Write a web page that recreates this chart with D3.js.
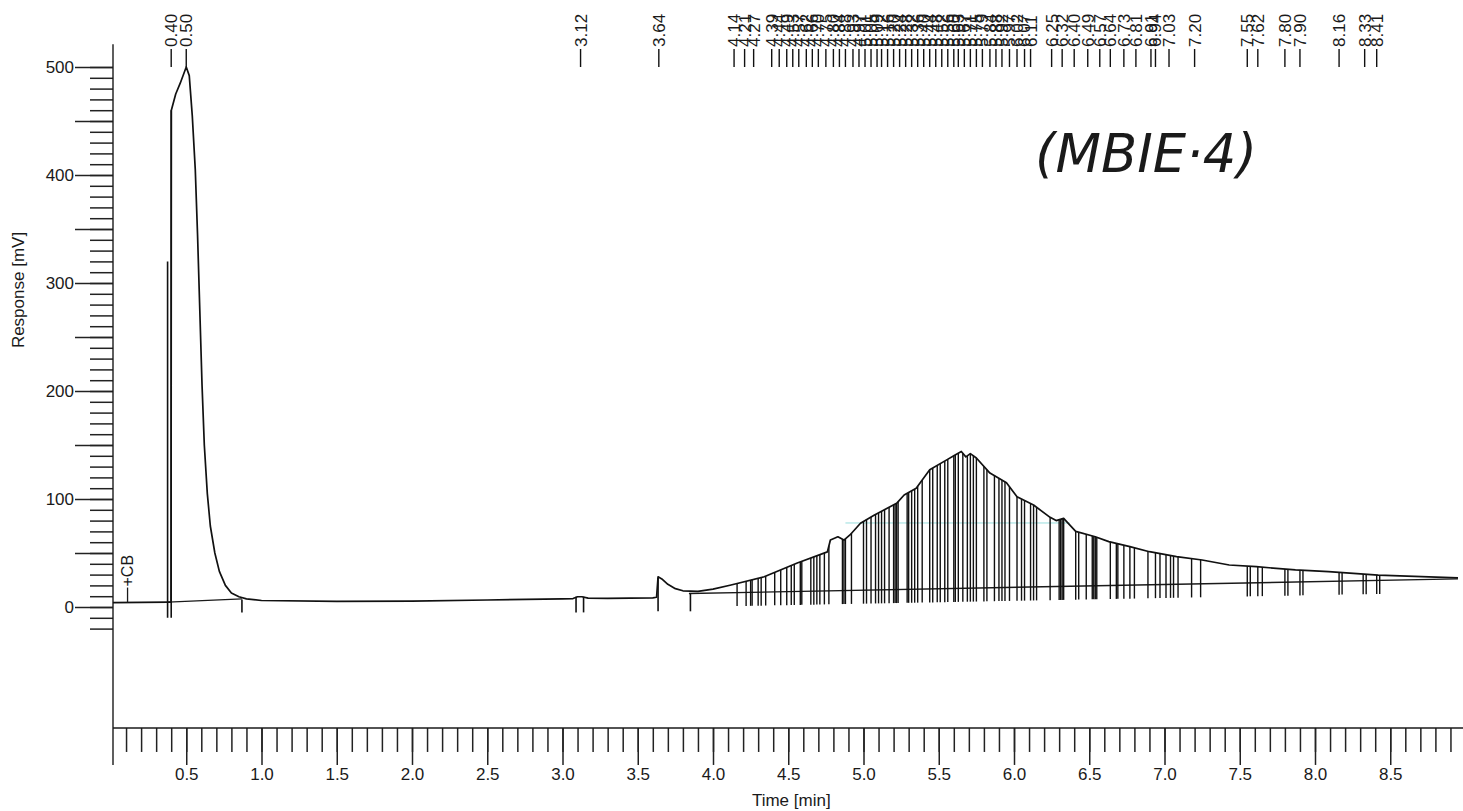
<!DOCTYPE html>
<html>
<head>
<meta charset="utf-8">
<script src="https://cdn.jsdelivr.net/npm/d3@7/dist/d3.min.js"></script>
<style>
  body { margin: 0; background: #fff; }
  text { font-family: "Liberation Sans", Arial, sans-serif; fill: #1a1a1a; }
</style>
</head>
<body>
<div id="chart"></div>
<script>
// ---- data ----
var signalTime = [0.013, 0.20, 0.38, 0.399, 0.401, 0.43, 0.46, 0.50, 0.52, 0.54, 0.56, 0.575, 0.59, 0.605, 0.62, 0.64,
  0.66, 0.69, 0.72, 0.76, 0.80, 0.85, 0.90, 1.00, 1.50, 2.00, 2.50, 3.00, 3.07, 3.10, 3.13, 3.17, 3.30, 3.60, 3.625,
  3.635, 3.66, 3.70, 3.75, 3.80, 3.90, 4.00, 4.12, 4.34, 4.56, 4.76, 4.78, 4.83, 4.87, 4.91, 4.98, 5.07, 5.22, 5.27,
  5.35, 5.44, 5.55, 5.60, 5.65, 5.68, 5.71, 5.75, 5.84, 5.95, 6.02, 6.13, 6.24, 6.28, 6.33, 6.41, 6.54, 6.63, 6.77,
  6.90, 7.08, 7.25, 7.43, 7.61, 7.87, 8.09, 8.42, 8.95];
var signalMv = [4.0, 4.2, 4.5, 4.5, 460, 475, 485, 500, 492, 455, 405, 345, 275, 205, 150, 105,
  75, 50, 33, 20, 13, 9.5, 7.5, 6.0, 5.2, 5.5, 6.5, 7.5, 7.8, 9.5, 9.5, 8.2, 8.0, 8.5, 9.0,
  28, 26, 21, 17, 15, 14.5, 16.5, 20.4, 28, 40.7, 51, 62, 65, 62, 66.7, 77.6, 85, 96, 103.7,
  110, 127, 136, 140, 144, 139, 142, 138, 124, 115, 102, 94.4, 83, 80, 82, 70, 65, 60.5, 55.9,
  51.2, 46.6, 43.5, 38.9, 37.3, 34.3, 32.7, 29.6, 26.9];

// retention times printed above the trace
var peakTimes = [0.40, 0.50, 3.12, 3.64, 4.14, 4.21, 4.27, 4.39, 4.44, 4.49, 4.53, 4.57, 4.62, 4.66, 4.70, 4.75,
  4.80, 4.84, 4.88, 4.93, 4.97, 5.01, 5.05, 5.09, 5.12, 5.16, 5.20, 5.24, 5.28, 5.32, 5.36, 5.40, 5.44, 5.48, 5.52,
  5.56, 5.60, 5.63, 5.67, 5.71, 5.75, 5.79, 5.84, 5.88, 5.92, 5.97, 6.02, 6.07, 6.11, 6.25, 6.32, 6.40, 6.49, 6.57,
  6.64, 6.73, 6.81, 6.91, 6.94, 7.03, 7.20, 7.55, 7.62, 7.80, 7.90, 8.16, 8.33, 8.41];

// peak boundaries (drop lines)
var dropTimes = [4.16, 4.22, 4.25, 4.26, 4.30, 4.32, 4.35, 4.41, 4.45, 4.49, 4.52, 4.54, 4.58, 4.59, 4.65, 4.67,
  4.69, 4.71, 4.74, 4.77, 4.86, 4.87, 4.88, 4.92, 5.00, 5.02, 5.05, 5.08, 5.10, 5.12, 5.14, 5.17, 5.20, 5.21, 5.22,
  5.23, 5.29, 5.30, 5.32, 5.34, 5.36, 5.39, 5.44, 5.46, 5.49, 5.51, 5.54, 5.56, 5.60, 5.61, 5.63, 5.66, 5.69, 5.71,
  5.73, 5.75, 5.80, 5.82, 5.87, 5.90, 5.92, 5.94, 5.97, 6.02, 6.05, 6.07, 6.11, 6.13, 6.15, 6.24, 6.30, 6.31, 6.32,
  6.33, 6.41, 6.43, 6.48, 6.52, 6.53, 6.54, 6.55, 6.64, 6.68, 6.69, 6.73, 6.77, 6.80, 6.89, 6.94, 6.97, 7.01, 7.04,
  7.06, 7.09, 7.18, 7.24, 7.55, 7.57, 7.62, 7.65, 7.80, 7.82, 7.90, 7.92, 8.16, 8.18, 8.32, 8.34, 8.41, 8.43];

// start / end markers of the early peaks
var markTime = [0.376, 0.40, 0.87, 3.09, 3.14, 3.635, 3.85];
var markTop = [320, 460, 7, 9.5, 9.5, 27, 13];
var markBottom = [-10, -10, -5, -5, -5, -4, -4];

// integration baselines
var baseStartTime = [0.38, 3.84];
var baseStartMv = [4.5, 12.5];
var baseEndTime = [0.87, 8.95];
var baseEndMv = [7.5, 26];

var xMajorTicks = [0.5, 1.0, 1.5, 2.0, 2.5, 3.0, 3.5, 4.0, 4.5, 5.0, 5.5, 6.0, 6.5, 7.0, 7.5, 8.0, 8.5];
var yMajorTicks = [0, 50, 100, 150, 200, 250, 300, 350, 400, 450, 500];

// ---- layout ----
var svgWidth = 1463;
var svgHeight = 811;
var axisX = 113;

var svg = d3.select("#chart")
  .append("svg")
  .attr("width", svgWidth)
  .attr("height", svgHeight);

var x = d3.scaleLinear().domain([0, 9]).range([111, 1465.5]);
var y = d3.scaleLinear().domain([0, 500]).range([607, 67]);
var axisY = y(-112);

function signalAt(t) {
  var i = d3.bisectRight(signalTime, t);
  if (i <= 0) return signalMv[0];
  if (i >= signalTime.length) return signalMv[signalMv.length - 1];
  var t0 = signalTime[i - 1], t1 = signalTime[i];
  return signalMv[i - 1] + (signalMv[i] - signalMv[i - 1]) * (t - t0) / (t1 - t0);
}

function baselineAt(t) {
  for (var k = 0; k < baseStartTime.length; k++) {
    if (t >= baseStartTime[k] && t <= baseEndTime[k]) {
      return baseStartMv[k] + (baseEndMv[k] - baseStartMv[k]) * (t - baseStartTime[k]) / (baseEndTime[k] - baseStartTime[k]);
    }
  }
  return signalAt(t);
}

// y axis: minor ladder, then 50s / labelled 100s
svg.append("g")
  .attr("transform", `translate(${axisX},0)`)
  .call(d3.axisLeft(y).tickValues(d3.range(-20, 501, 10)).tickSize(23).tickFormat(""))
  .call(g => g.select(".domain").remove());

svg.append("g")
  .attr("transform", `translate(${axisX},0)`)
  .call(d3.axisLeft(y).tickValues(yMajorTicks).tickSize(38).tickPadding(1)
    .tickFormat(d => d % 100 === 0 ? d : ""))
  .call(g => g.select(".domain").remove())
  .call(g => g.selectAll("text").style("font-size", "17px"));

svg.append("line")
  .attr("x1", axisX).attr("x2", axisX)
  .attr("y1", y(521)).attr("y2", axisY + 37)
  .attr("stroke", "#1a1a1a").attr("stroke-width", 1.4);

// x axis
svg.append("g")
  .attr("transform", `translate(0,${axisY})`)
  .call(d3.axisBottom(x).tickValues(d3.range(1, 90).map(i => i / 10)).tickSize(24).tickFormat(""))
  .call(g => g.select(".domain").remove());

svg.append("g")
  .attr("transform", `translate(0,${axisY})`)
  .call(d3.axisBottom(x).tickValues(xMajorTicks).tickSize(37).tickPadding(3).tickFormat(d3.format(".1f")))
  .call(g => g.select(".domain").remove())
  .call(g => g.selectAll("text").style("font-size", "17px"));

svg.append("line")
  .attr("x1", axisX).attr("x2", svgWidth)
  .attr("y1", axisY).attr("y2", axisY)
  .attr("stroke", "#1a1a1a").attr("stroke-width", 1.4);

svg.selectAll(".tick line").attr("stroke", "#222").attr("stroke-width", 1.5);

// axis titles
svg.append("text")
  .attr("transform", "translate(24,290) rotate(-90)")
  .attr("text-anchor", "middle")
  .style("font-size", "17px")
  .text("Response [mV]");

svg.append("text")
  .attr("x", x(4.52)).attr("y", 806)
  .attr("text-anchor", "middle")
  .style("font-size", "17px")
  .text("Time [min]");

// faint cyan line from the scan
svg.append("line")
  .attr("x1", x(4.88)).attr("x2", x(6.37))
  .attr("y1", y(77.8)).attr("y2", y(77.8))
  .attr("stroke", "#7fd6d6").attr("stroke-width", 1).attr("opacity", 0.8);

// integration baselines
svg.selectAll(".baseline")
  .data(baseStartTime)
  .enter()
  .append("line")
  .attr("x1", (d, i) => x(d))
  .attr("x2", (d, i) => x(baseEndTime[i]))
  .attr("y1", (d, i) => y(baseStartMv[i]))
  .attr("y2", (d, i) => y(baseEndMv[i]))
  .attr("stroke", "#1a1a1a").attr("stroke-width", 1.4);

// drop lines
svg.selectAll(".drop")
  .data(dropTimes)
  .enter()
  .append("line")
  .attr("x1", d => x(d)).attr("x2", d => x(d))
  .attr("y1", d => y(signalAt(d)))
  .attr("y2", d => y(baselineAt(d) - 12.5))
  .attr("stroke", "#111").attr("stroke-width", 1.4);

svg.selectAll(".mark")
  .data(markTime)
  .enter()
  .append("line")
  .attr("x1", d => x(d)).attr("x2", d => x(d))
  .attr("y1", (d, i) => y(markTop[i]))
  .attr("y2", (d, i) => y(markBottom[i]))
  .attr("stroke", "#111").attr("stroke-width", 1.6);

// the trace
var line = d3.line()
  .x((d, i) => x(signalTime[i]))
  .y(d => y(d));

svg.append("path")
  .datum(signalMv)
  .attr("d", line)
  .attr("fill", "none")
  .attr("stroke", "#111")
  .attr("stroke-width", 1.7)
  .attr("stroke-linejoin", "round");

// "+CB" marker
svg.append("line")
  .attr("x1", x(0.11)).attr("x2", x(0.11))
  .attr("y1", y(4.2)).attr("y2", y(18))
  .attr("stroke", "#1a1a1a").attr("stroke-width", 1.3);

svg.append("text")
  .attr("transform", `translate(${x(0.11)},${y(19)}) rotate(-90)`)
  .attr("dy", "0.35em")
  .style("font-size", "16px")
  .text("+CB");

// retention time labels across the top
var labels = svg.selectAll(".peak")
  .data(peakTimes)
  .enter()
  .append("g")
  .attr("transform", d => `translate(${x(d)},0)`);

labels.append("line")
  .attr("y1", 67).attr("y2", 49)
  .attr("stroke", "#111").attr("stroke-width", 1.4);

labels.append("text")
  .attr("transform", "translate(0,47) rotate(-90)")
  .attr("dy", "0.35em")
  .style("font-size", "17px")
  .text(d => d.toFixed(2));

// handwritten note
svg.append("text")
  .attr("x", 1035).attr("y", 172)
  .attr("textLength", 222)
  .attr("lengthAdjust", "spacingAndGlyphs")
  .style("font-family", "'DejaVu Sans', sans-serif")
  .style("font-style", "italic")
  .style("font-size", "54px")
  .style("fill", "#1a1a1a")
  .text("(MBIE·4)");
</script>
</body>
</html>
